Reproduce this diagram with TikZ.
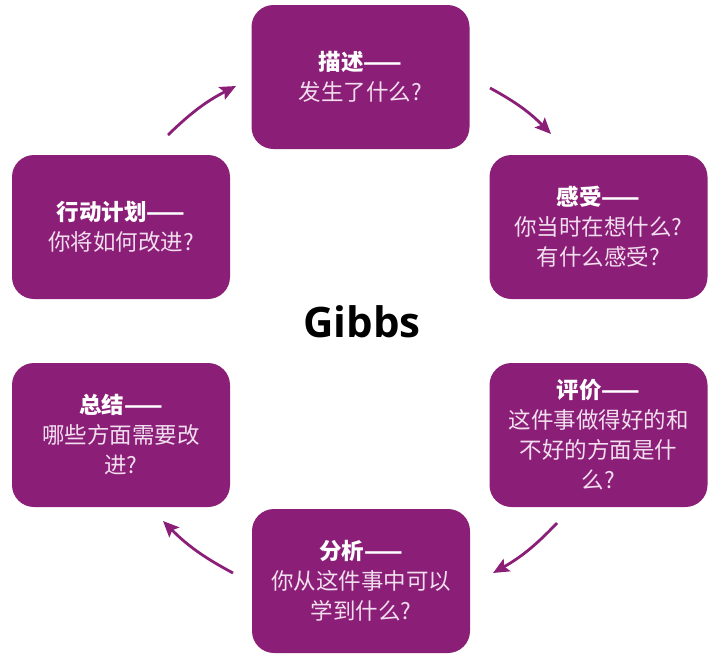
\documentclass[tikz,border=0pt]{standalone}
\usepackage{fontspec}
\setmainfont{Open Sans}
\newfontfamily\cjk{Noto Sans CJK SC}
\usetikzlibrary{arrows.meta}
\definecolor{gpurple}{RGB}{139,31,120}
\definecolor{gsub}{RGB}{242,222,238}
\begin{document}
\begin{tikzpicture}[x=1pt,y=-1pt,
  stagebox/.style={fill=gpurple, rounded corners=22pt, minimum width=218pt,
    minimum height=144pt, inner sep=0pt, align=center,
    font=\cjk\fontsize{22.5}{30}\selectfont, text=gsub},
  cyclearrow/.style={draw=gpurple, line width=2.8pt,
    -{Stealth[length=16pt,width=14pt,inset=3pt]}, bend left=8.5}]
\useasboundingbox (0,0) rectangle (716,654);

\node[stagebox] (describe) at (360.5,77) {{\color{white}\bfseries 描述——}\\发生了什么?};
\node[stagebox] (feel) at (598.5,227) {{\color{white}\bfseries 感受——}\\你当时在想什么?\\有什么感受?};
\node[stagebox] (evaluate) at (598.5,435) {{\color{white}\bfseries 评价——}\\这件事做得好的和\\不好的方面是什\\么?};
\node[stagebox] (analyse) at (361,581) {{\color{white}\bfseries 分析——}\\你从这件事中可以\\学到什么?};
\node[stagebox] (conclude) at (121,435) {{\color{white}\bfseries 总结——}\\哪些方面需要改\\进?};
\node[stagebox] (action) at (121,227) {{\color{white}\bfseries 行动计划——}\\你将如何改进?};

\node[font=\bfseries\fontsize{42}{46}\selectfont, anchor=base] (title) at (362,337) {Gibbs};

\coordinate (a1s) at (168,135); \coordinate (a1e) at (236,86);
\coordinate (a2s) at (490,88);  \coordinate (a2e) at (551,134);
\coordinate (a3s) at (557,523); \coordinate (a3e) at (493,573);
\coordinate (a4s) at (233,573); \coordinate (a4e) at (163,521);

\draw[cyclearrow] (a1s) to (a1e);
\draw[cyclearrow] (a2s) to (a2e);
\draw[cyclearrow] (a3s) to (a3e);
\draw[cyclearrow] (a4s) to (a4e);
\end{tikzpicture}
\end{document}
